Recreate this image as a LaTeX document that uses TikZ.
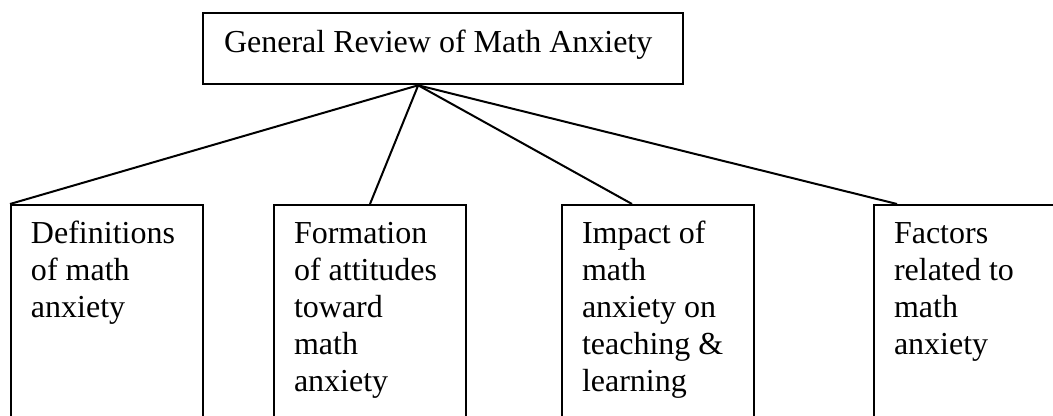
\documentclass[tikz,border=0pt]{standalone}
\usepackage{fontspec}
\setmainfont{Liberation Serif}
\usetikzlibrary{positioning}

\begin{document}
\begin{tikzpicture}[
  box/.style={
    rectangle, draw=black, line width=1pt, align=flush left,
    inner xsep=10pt, inner ysep=0pt, anchor=north west,
    font=\fontsize{16pt}{18.4pt}\selectfont
  },
  headbox/.style ={box, text width=218.6pt, inner xsep=10.75pt,
                   text height=20pt, text depth=15.8pt},
  topicbox/.style={box, text width=76pt, text height=19.5pt, text depth=160pt},
  link/.style    ={line width=1pt}
]
  \useasboundingbox (0,0) rectangle (526.5pt,-208pt);
  \clip (0,0) rectangle (526.5pt,-208pt);

  \node[headbox]  (review) at (100.75pt,-5.85pt) {General Review of Math Anxiety};
  \node[topicbox] (defs)   at (5pt,-102pt)     {Definitions\\of math\\anxiety};
  \node[topicbox] (form)   at (136.5pt,-102pt) {Formation\\of attitudes\\toward\\math\\anxiety};
  \node[topicbox] (impact) at (280.5pt,-102pt) {Impact of\\math\\anxiety on\\teaching \&\\learning};
  \node[topicbox] (factor) at (436.5pt,-102pt) {Factors\\related to\\math\\anxiety};

  \coordinate (hub) at ([xshift=-12.2pt]review.south);

  \draw[link] (hub) -- (defs.north west);
  \draw[link] (hub) -- (form.north);
  \draw[link] (hub) -- ([xshift=35.5pt]impact.north west);
  \draw[link] (hub) -- ([xshift=12pt]factor.north west);
\end{tikzpicture}
\end{document}
